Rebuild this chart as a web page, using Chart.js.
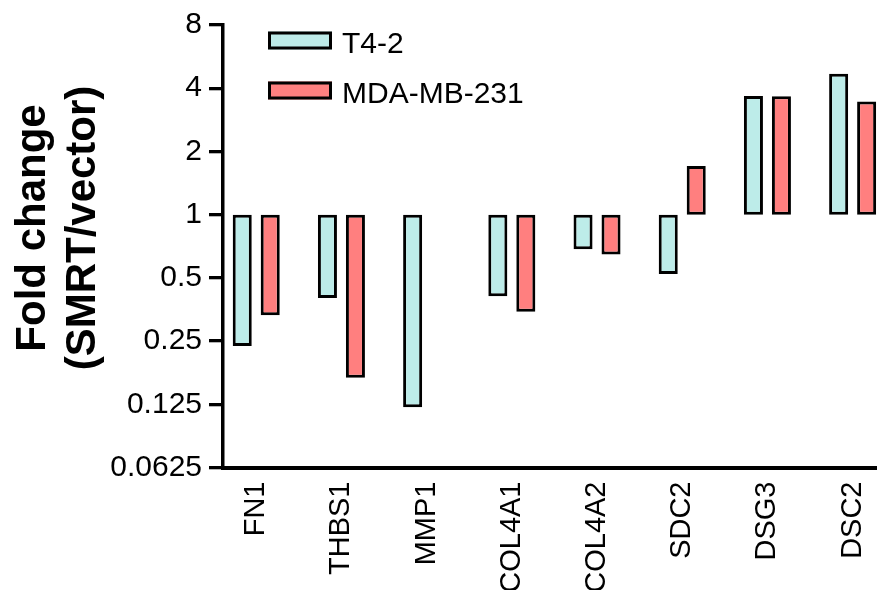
<!DOCTYPE html>
<html>
<head>
<meta charset="utf-8">
<script src="https://cdn.jsdelivr.net/npm/chart.js@4.4.0/dist/chart.umd.min.js"></script>
<style>
    html, body { margin: 0; padding: 0; background: #fff; overflow: hidden; }
    canvas { display: block; }
</style>
</head>
<body>
<canvas id="foldChart" width="877" height="590"></canvas>
<script>
// Chart data
const genes = ['FN1', 'THBS1', 'MMP1', 'COL4A1', 'COL4A2', 'SDC2', 'DSG3', 'DSC2'];
const t42Fold = [0.237, 0.401, 0.121, 0.409, 0.684, 0.521, 3.67, 4.69];
const mdaFold = [0.332, 0.167, null, 0.345, 0.646, 1.705, 3.66, 3.46];
const yTickValues = [0.0625, 0.125, 0.25, 0.5, 1, 2, 4, 8];
const seriesNames = ['T4-2', 'MDA-MB-231'];
const yTitleLines = ['Fold change', '(SMRT/vector)'];
const baseline = 1;

const FONT = "'Liberation Sans', Arial, Helvetica, sans-serif";
const colors = ['#bdece9', '#ff7f7f'];

// floating bars from 1 to the fold change, skip missing values
function toBars(values) {
    return values
        .map((v, i) => ({ x: i, y: v === null ? null : [baseline, v] }))
        .filter(d => d.y !== null);
}

// Axis title and legend drawn on top of the chart
const overlay = {
    id: 'overlay',
    afterDraw(chart) {
        const { ctx, chartArea } = chart;

        ctx.save();
        ctx.translate(0, 228);
        ctx.rotate(-Math.PI / 2);
        ctx.fillStyle = '#000';
        ctx.font = `bold 42px ${FONT}`;
        ctx.textAlign = 'center';
        ctx.textBaseline = 'alphabetic';
        yTitleLines.forEach((line, i) => ctx.fillText(line, 0, 45 + i * 50));
        ctx.restore();

        ctx.save();
        const bx = chartArea.left + 45;
        chart.data.datasets.forEach((ds, i) => {
            const by = chartArea.top + 6.5 + i * 50;
            ctx.fillStyle = ds.backgroundColor;
            ctx.fillRect(bx, by, 64, 18);
            ctx.strokeStyle = '#000';
            ctx.lineWidth = 3;
            ctx.strokeRect(bx + 1.5, by + 1.5, 61, 15);
            ctx.fillStyle = '#000';
            ctx.font = `30px ${FONT}`;
            ctx.textAlign = 'left';
            ctx.textBaseline = 'alphabetic';
            ctx.fillText(ds.label, bx + 74, by + 21);
        });
        ctx.restore();
    }
};

const ctx = document.getElementById('foldChart').getContext('2d');

const foldChart = new Chart(ctx, {
    type: 'bar',
    data: {
        datasets: [{
            label: seriesNames[0],
            data: toBars(t42Fold),
            backgroundColor: colors[0],
            borderColor: '#000',
            borderWidth: 3,
            borderSkipped: false
        },
        {
            label: seriesNames[1],
            data: toBars(mdaFold),
            backgroundColor: colors[1],
            borderColor: '#000',
            borderWidth: 3,
            borderSkipped: false
        }]
    },
    options: {
        responsive: false,
        animation: false,
        devicePixelRatio: 1,
        categoryPercentage: 0.657,
        barPercentage: 0.68,
        layout: {
            padding: { top: 24.5, right: 0, bottom: 0, left: 0 }
        },
        plugins: {
            legend: { display: false },
            tooltip: { enabled: false }
        },
        scales: {
            x: {
                type: 'linear',
                offset: false,
                min: -0.39,
                max: 7.286,
                afterBuildTicks: scale => {
                    scale.ticks = genes.map((g, i) => ({ value: i }));
                },
                afterFit: scale => {
                    scale.height = 122.5;
                    scale.paddingLeft = 0;
                    scale.paddingRight = 0;
                },
                grid: { display: false },
                border: { display: true, color: '#000', width: 4 },
                ticks: {
                    autoSkip: false,
                    minRotation: 90,
                    maxRotation: 90,
                    padding: 6,
                    color: '#000',
                    font: { family: FONT, size: 29 },
                    callback: value => genes[value]
                }
            },
            y: {
                type: 'logarithmic',
                min: 0.0625,
                max: 8,
                afterBuildTicks: scale => {
                    scale.ticks = yTickValues.map(v => ({ value: v }));
                },
                afterFit: scale => {
                    scale.width = 223;
                },
                grid: {
                    drawOnChartArea: false,
                    drawTicks: true,
                    tickLength: 14,
                    color: '#000',
                    lineWidth: 3.3
                },
                border: { display: true, color: '#000', width: 3.5 },
                ticks: {
                    padding: 7,
                    color: '#000',
                    font: { family: FONT, size: 30 },
                    callback: value => String(value)
                }
            }
        }
    },
    plugins: [overlay]
});
</script>
</body>
</html>
